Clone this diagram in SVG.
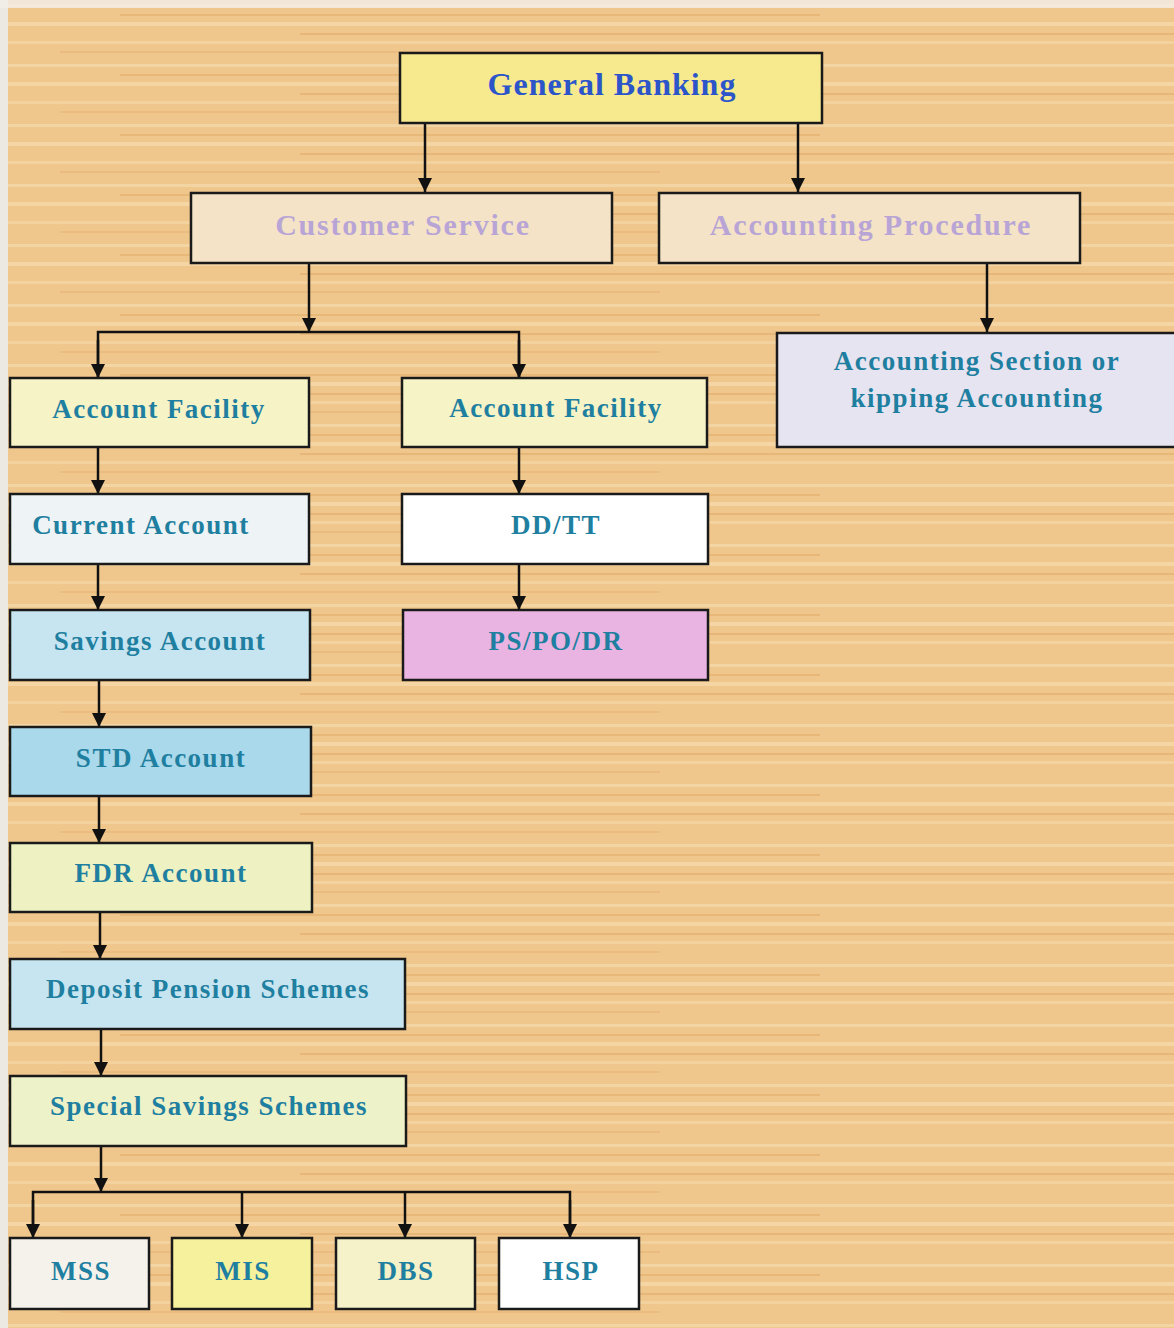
<svg xmlns="http://www.w3.org/2000/svg" width="1174" height="1328" viewBox="0 0 1174 1328">
<defs>
<pattern id="wood" x="0" y="0" width="1174" height="60" patternUnits="userSpaceOnUse">
<rect width="1174" height="60" fill="#efc78c"/>
<rect x="0" y="4" width="1174" height="3" fill="#f6dcae" opacity="0.7"/>
<rect x="120" y="14" width="700" height="2" fill="#e3ad6c" opacity="0.6"/>
<rect x="0" y="22" width="1174" height="4" fill="#f7e0b6" opacity="0.55"/>
<rect x="300" y="33" width="874" height="2" fill="#e0a866" opacity="0.5"/>
<rect x="0" y="41" width="1174" height="3" fill="#f5d9a8" opacity="0.6"/>
<rect x="60" y="51" width="600" height="2" fill="#e6b171" opacity="0.5"/>
</pattern>
<marker id="ah" viewBox="0 0 10 10" refX="10" refY="5" markerWidth="5.6" markerHeight="5.6" markerUnits="strokeWidth" orient="auto">
<path d="M0,0 L10,5 L0,10 Z" fill="#111"/>
</marker>
<style>
.box{stroke:#1a1a1a;stroke-width:2.5}
.t{font-family:"Liberation Serif","Times New Roman",serif;font-weight:bold;text-anchor:middle;fill:#1f7fa0;font-size:27px;letter-spacing:1.5px}
.tp{fill:#b8a5d6;font-size:30px;letter-spacing:1.8px}
.tb{fill:#2c55c9;font-size:32px;letter-spacing:1px}
.c{stroke:#111;stroke-width:2.5;fill:none}
.a{marker-end:url(#ah)}
</style>
</defs>
<rect width="1174" height="1328" fill="url(#wood)"/>
<rect x="0" y="0" width="8" height="1328" fill="#ece8e2"/>
<rect x="0" y="0" width="1174" height="8" fill="#f3efe8" opacity="0.8"/>

<g id="connectors">
<line class="c a" x1="425" y1="123" x2="425" y2="192"/>
<line class="c a" x1="798" y1="123" x2="798" y2="192"/>
<line class="c a" x1="987" y1="263" x2="987" y2="332"/>
<line class="c a" x1="309" y1="263" x2="309" y2="332"/>
<polyline class="c" points="98,377 98,332 519,332 519,377"/>
<line class="c a" x1="98" y1="340" x2="98" y2="378"/>
<line class="c a" x1="519" y1="340" x2="519" y2="378"/>
<line class="c a" x1="98" y1="447" x2="98" y2="494"/>
<line class="c a" x1="98" y1="564" x2="98" y2="610"/>
<line class="c a" x1="99" y1="680" x2="99" y2="727"/>
<line class="c a" x1="99" y1="796" x2="99" y2="843"/>
<line class="c a" x1="100" y1="912" x2="100" y2="959"/>
<line class="c a" x1="101" y1="1029" x2="101" y2="1076"/>
<line class="c a" x1="101" y1="1146" x2="101" y2="1192"/>
<polyline class="c" points="33,1230 33,1192 570,1192 570,1230"/>
<line class="c a" x1="33" y1="1200" x2="33" y2="1238"/>
<line class="c a" x1="242" y1="1192" x2="242" y2="1238"/>
<line class="c a" x1="405" y1="1192" x2="405" y2="1238"/>
<line class="c a" x1="570" y1="1200" x2="570" y2="1238"/>
<line class="c a" x1="519" y1="447" x2="519" y2="494"/>
<line class="c a" x1="519" y1="564" x2="519" y2="610"/>
</g>

<g id="general-banking"><rect class="box" x="400" y="53" width="422" height="70" fill="#f7ea8e"/><text class="t tb" x="612" y="95">General Banking</text></g>
<g id="customer-service"><rect class="box" x="191" y="193" width="421" height="70" fill="#f4e3c6"/><text class="t tp" x="403" y="235">Customer Service</text></g>
<g id="accounting-procedure"><rect class="box" x="659" y="193" width="421" height="70" fill="#f4e3c6"/><text class="t tp" x="871" y="235">Accounting Procedure</text></g>
<g id="accounting-section"><rect class="box" x="777" y="333" width="400" height="114" fill="#e7e4f1"/><text class="t" x="977" y="370">Accounting Section or</text><text class="t" x="977" y="407">kipping Accounting</text></g>

<g id="account-facility-1"><rect class="box" x="10" y="378" width="299" height="69" fill="#f6f3c6"/><text class="t" x="159" y="418">Account Facility</text></g>
<g id="current-account"><rect class="box" x="10" y="494" width="299" height="70" fill="#eef4f6"/><text class="t" x="141" y="534">Current Account</text></g>
<g id="savings-account"><rect class="box" x="10" y="610" width="300" height="70" fill="#c6e5f1"/><text class="t" x="160" y="650">Savings Account</text></g>
<g id="std-account"><rect class="box" x="10" y="727" width="301" height="69" fill="#a9d9eb"/><text class="t" x="161" y="767">STD Account</text></g>
<g id="fdr-account"><rect class="box" x="10" y="843" width="302" height="69" fill="#eef2c2"/><text class="t" x="161" y="882">FDR Account</text></g>
<g id="deposit-pension"><rect class="box" x="10" y="959" width="395" height="70" fill="#c7e5f0"/><text class="t" x="208" y="998">Deposit Pension Schemes</text></g>
<g id="special-savings"><rect class="box" x="10" y="1076" width="396" height="70" fill="#eef2c9"/><text class="t" x="209" y="1115">Special Savings Schemes</text></g>

<g id="mss"><rect class="box" x="10" y="1238" width="139" height="71" fill="#f5f2ec"/><text class="t" x="81" y="1280">MSS</text></g>
<g id="mis"><rect class="box" x="172" y="1238" width="140" height="71" fill="#f6f19c"/><text class="t" x="243" y="1280">MIS</text></g>
<g id="dbs"><rect class="box" x="336" y="1238" width="139" height="71" fill="#f5f1c8"/><text class="t" x="406" y="1280">DBS</text></g>
<g id="hsp"><rect class="box" x="499" y="1238" width="140" height="71" fill="#ffffff"/><text class="t" x="571" y="1280">HSP</text></g>

<g id="account-facility-2"><rect class="box" x="402" y="378" width="305" height="69" fill="#f6f3c6"/><text class="t" x="556" y="417">Account Facility</text></g>
<g id="dd-tt"><rect class="box" x="402" y="494" width="306" height="70" fill="#ffffff"/><text class="t" x="556" y="534">DD/TT</text></g>
<g id="ps-po-dr"><rect class="box" x="403" y="610" width="305" height="70" fill="#e9b4e2"/><text class="t" x="556" y="650">PS/PO/DR</text></g>
</svg>
